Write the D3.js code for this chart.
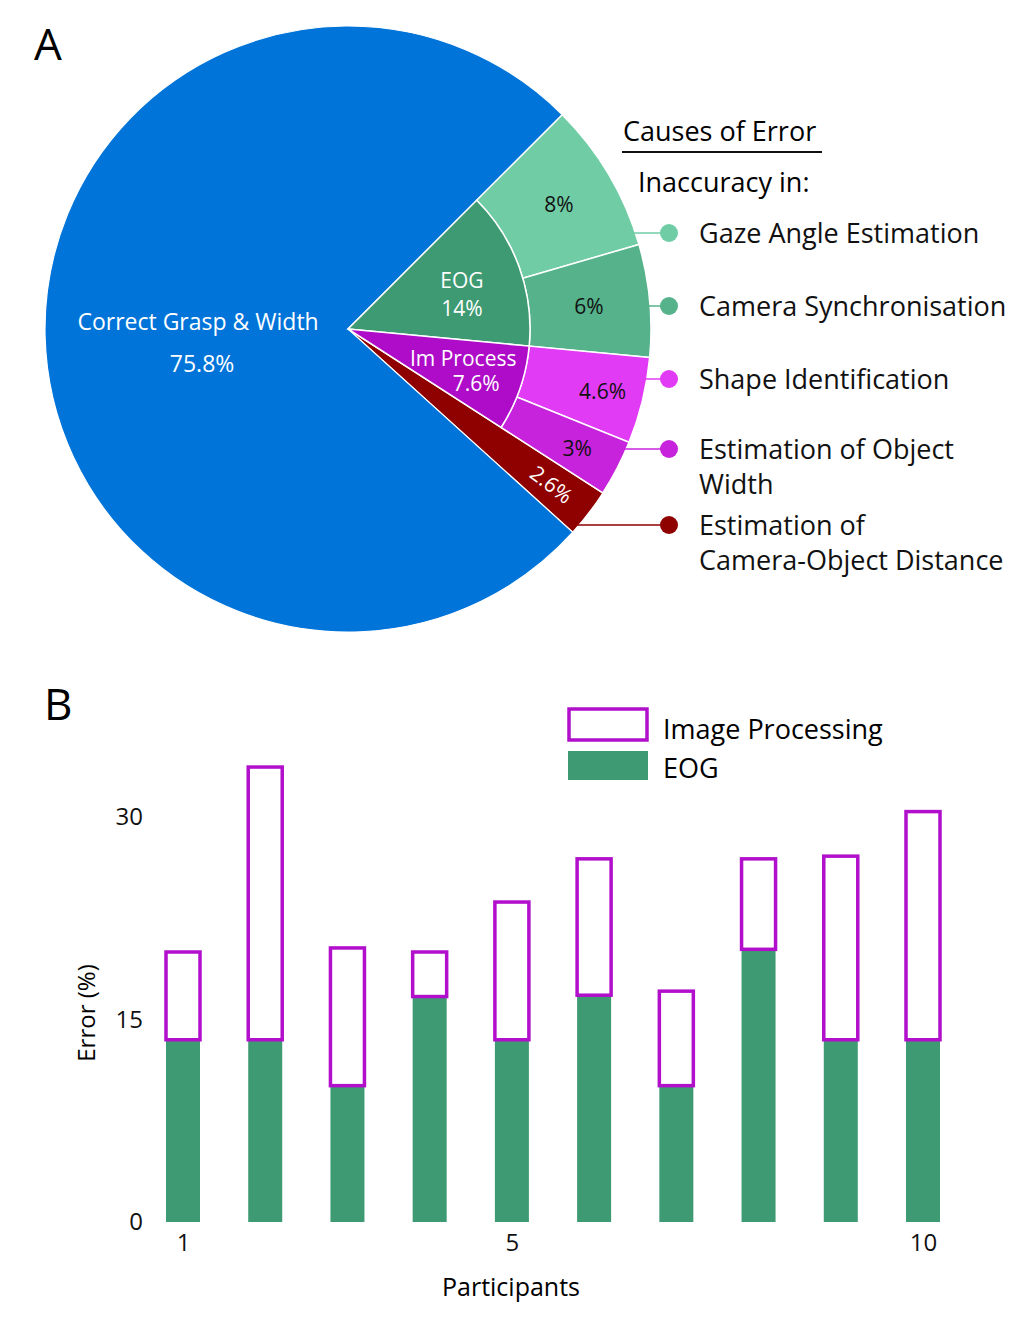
<!DOCTYPE html>
<meta charset="utf-8">
<script src="https://d3js.org/d3.v7.min.js"></script>
<style>
  body { margin: 0; background: #fff; }
  text { font-family: "Open Sans", "Noto Sans", sans-serif; }
</style>
<div id="my_dataviz"></div>
<script>

// ---- pie data (panel A) ----
var innerNames  = ["EOG", "Im Process", "Camera-Object Distance", "Correct Grasp & Width"]
var innerValues = [14, 7.6, 2.6, 75.8]
var innerColors = ["#3e9a72", "#ae0cc8", "#8f0000", "#0074d9"]

var outerNames  = ["Gaze Angle Estimation", "Camera Synchronisation", "Shape Identification", "Estimation of Object Width"]
var outerValues = [8, 6, 4.6, 3]
var outerColors = ["#70cca5", "#55b28a", "#e23bf5", "#c723dc"]

var legendLines = [["Gaze Angle Estimation"], ["Camera Synchronisation"], ["Shape Identification"],
                   ["Estimation of Object", "Width"], ["Estimation of", "Camera-Object Distance"]]
var legendColors = ["#70cca5", "#55b28a", "#e23bf5", "#c723dc", "#8f0000"]

// ---- bar data (panel B) ----
var participants = [1, 2, 3, 4, 5, 6, 7, 8, 9, 10]
var eogError     = [13.5, 13.5, 10.1, 16.7, 13.5, 16.8, 10.1, 20.2, 13.5, 13.5]
var totalError   = [20.0, 33.7, 20.3, 20.0, 23.7, 26.9, 17.1, 26.9, 27.1, 30.4]
var xTicks = [1, 5, 10]
var yTicks = [0, 15, 30]

var W = 1030, H = 1318
var svg = d3.select("#my_dataviz").append("svg")
    .attr("width", W).attr("height", H)

// ================= panel A =================
var cx = 348, cy = 329, R = 303, r0 = 182
var start = Math.PI / 4

svg.append("text").attr("x", 34).attr("y", 60).text("A")
  .style("font-size", "44px")

var gA = svg.append("g").attr("transform", "translate(" + cx + "," + cy + ")")

var pieInner = d3.pie().sort(null).startAngle(start).endAngle(start + 2 * Math.PI)
var innerArcs = pieInner(innerValues)

// outer ring: the sub-causes share the sectors of EOG + Im Process
var pieOuter = d3.pie().sort(null).startAngle(start).endAngle(start + 2 * Math.PI)
var outerArcs = pieOuter(outerValues.concat([2.6, 75.8])).slice(0, outerValues.length)

var arc = d3.arc()

// full-radius slices (distance + correct)
gA.selectAll(".big").data(innerArcs.slice(2)).enter().append("path")
  .attr("d", function(d) { return arc({innerRadius: 0, outerRadius: R, startAngle: d.startAngle, endAngle: d.endAngle}) })
  .attr("fill", function(d, i) { return innerColors[i + 2] })
  .attr("stroke", "#fff").attr("stroke-width", 1.2)

gA.selectAll(".outer").data(outerArcs).enter().append("path")
  .attr("d", function(d) { return arc({innerRadius: r0, outerRadius: R, startAngle: d.startAngle, endAngle: d.endAngle}) })
  .attr("fill", function(d, i) { return outerColors[i] })
  .attr("stroke", "#fff").attr("stroke-width", 1.5)

gA.selectAll(".inner").data(innerArcs.slice(0, 2)).enter().append("path")
  .attr("d", function(d) { return arc({innerRadius: 0, outerRadius: r0, startAngle: d.startAngle, endAngle: d.endAngle}) })
  .attr("fill", function(d, i) { return innerColors[i] })
  .attr("stroke", "#fff").attr("stroke-width", 1.5)

function polar(a, rad) { return [Math.sin(a) * rad, -Math.cos(a) * rad] }
function mid(d) { return (d.startAngle + d.endAngle) / 2 }

// labels inside the pie
var p = polar(mid(innerArcs[3]), 150)
var mainLab = gA.append("text").attr("text-anchor", "middle").attr("fill", "#fff")
  .style("font-size", "23px")
mainLab.append("tspan").attr("x", p[0]).attr("y", p[1] - 3).text(innerNames[3])
mainLab.append("tspan").attr("x", p[0] + 4).attr("y", p[1] + 39).text(innerValues[3] + "%")

p = polar(mid(innerArcs[0]) + 0.05, 118)
var eogLab = gA.append("text").attr("text-anchor", "middle").attr("fill", "#fff").style("font-size", "21px")
eogLab.append("tspan").attr("x", p[0] + 1).attr("y", p[1] - 7).text(innerNames[0])
eogLab.append("tspan").attr("x", p[0] + 1).attr("y", p[1] + 21).text(innerValues[0] + "%")

p = polar(mid(innerArcs[1]) - 0.08, 119)
var imLab = gA.append("text").attr("text-anchor", "middle").attr("fill", "#fff").style("font-size", "21px")
imLab.append("tspan").attr("x", p[0]).attr("y", p[1] + 7).text(innerNames[1])
imLab.append("tspan").attr("x", p[0] + 13).attr("y", p[1] + 32).text(innerValues[1] + "%")

var outerLabR = [245, 242, 262, 258]
gA.selectAll(".olab").data(outerArcs).enter().append("text")
  .attr("transform", function(d, i) { var q = polar(mid(d), outerLabR[i]); return "translate(" + q[0] + "," + (q[1] + 8) + ")" })
  .attr("text-anchor", "middle").attr("fill", "#111").style("font-size", "21px")
  .text(function(d, i) { return outerValues[i] + "%" })

var dr = innerArcs[2]
p = polar(mid(dr), 256)
gA.append("text")
  .attr("transform", "translate(" + p[0] + "," + p[1] + ") rotate(" + (mid(dr) * 180 / Math.PI - 90) + ")")
  .attr("text-anchor", "middle").attr("dy", "0.35em").attr("fill", "#fff").style("font-size", "21px")
  .text(innerValues[2] + "%")

// legend for the causes
svg.append("text").attr("x", 623).attr("y", 141).text("Causes of Error").style("font-size", "27px")
svg.append("line").attr("x1", 622).attr("x2", 822).attr("y1", 152).attr("y2", 152)
  .attr("stroke", "#111").attr("stroke-width", 2)
svg.append("text").attr("x", 638).attr("y", 192).text("Inaccuracy in:").style("font-size", "27px")

var legendY = [233, 306, 379, 449, 525]
var dotX = 669
var leg = svg.selectAll(".leg").data(legendLines).enter().append("g")
leg.append("line")
  .attr("x1", function(d, i) { var dy = legendY[i] - cy; return cx + Math.sqrt(R * R - dy * dy) - 2 })
  .attr("x2", dotX).attr("y1", function(d, i) { return legendY[i] }).attr("y2", function(d, i) { return legendY[i] })
  .attr("stroke", function(d, i) { return legendColors[i] }).attr("stroke-width", 1.5)
leg.append("circle").attr("cx", dotX).attr("cy", function(d, i) { return legendY[i] }).attr("r", 9)
  .attr("fill", function(d, i) { return legendColors[i] })
leg.append("text").style("font-size", "27px").attr("fill", "#111")
  .each(function(d, i) {
    var t = d3.select(this)
    d.forEach(function(s, j) {
      t.append("tspan").attr("x", 699).attr("y", legendY[i] + 10 + j * 35).text(s)
    })
  })

// ================= panel B =================
svg.append("text").attr("x", 44).attr("y", 720).text("B").style("font-size", "44px")

var x = d3.scaleLinear().domain([1, 10]).range([183, 923])
var y = d3.scaleLinear().domain([0, 30]).range([1222, 817])
var bw = 34

var gB = svg.append("g")
gB.selectAll(".eog").data(participants).enter().append("rect")
  .attr("x", function(d) { return x(d) - bw / 2 }).attr("width", bw)
  .attr("y", function(d, i) { return y(eogError[i]) })
  .attr("height", function(d, i) { return y(0) - y(eogError[i]) })
  .attr("fill", "#3e9a72")

gB.selectAll(".imp").data(participants).enter().append("rect")
  .attr("x", function(d) { return x(d) - bw / 2 }).attr("width", bw)
  .attr("y", function(d, i) { return y(totalError[i]) })
  .attr("height", function(d, i) { return y(eogError[i]) - y(totalError[i]) })
  .attr("fill", "#fff").attr("stroke", "#b10fcc").attr("stroke-width", 3.5)

// axes: labels only, no lines
var yAxis = gB.append("g").attr("transform", "translate(150,0)")
  .call(d3.axisLeft(y).tickValues(yTicks).tickSize(0).tickPadding(7))
var xAxis = gB.append("g").attr("transform", "translate(0," + y(0) + ")")
  .call(d3.axisBottom(x).tickValues(xTicks).tickSize(0).tickPadding(12))
gB.selectAll(".domain").remove()
gB.selectAll(".tick text").style("font-size", "24px").style("font-family", "'Open Sans', sans-serif").attr("fill", "#111")

gB.append("text").attr("transform", "translate(95,1013) rotate(-90)").attr("text-anchor", "middle")
  .style("font-size", "24px").text("Error (%)")
gB.append("text").attr("x", 511).attr("y", 1296).attr("text-anchor", "middle")
  .style("font-size", "25px").text("Participants")

// legend
gB.append("rect").attr("x", 569).attr("y", 709).attr("width", 78).attr("height", 31)
  .attr("fill", "#fff").attr("stroke", "#b10fcc").attr("stroke-width", 3.5)
gB.append("rect").attr("x", 568).attr("y", 751).attr("width", 80).attr("height", 29).attr("fill", "#3e9a72")
gB.append("text").attr("x", 663).attr("y", 739).style("font-size", "27px").text("Image Processing")
gB.append("text").attr("x", 663).attr("y", 778).style("font-size", "27px").text("EOG")

</script>
